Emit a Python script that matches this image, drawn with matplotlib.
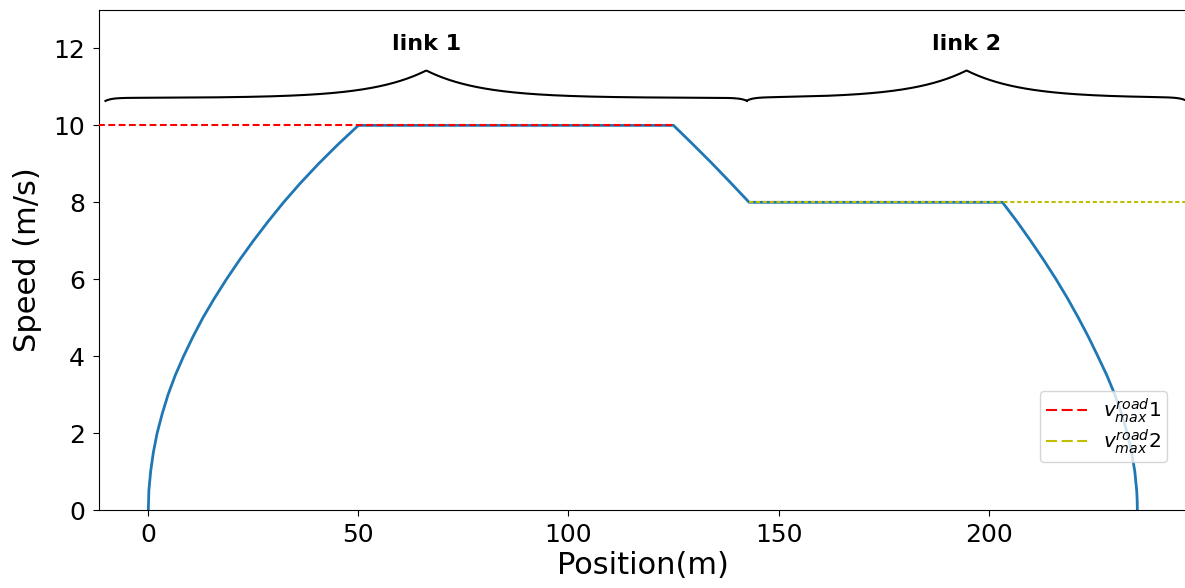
import numpy as np
import matplotlib
matplotlib.use("Agg")
import matplotlib.pyplot as plt
from matplotlib.lines import Line2D

# ---- data ----
accel_pos = [0, 0.13, 0.55, 1.2, 2.1, 3.3, 4.7, 6.4, 8.4, 10.6, 13.0, 15.7, 18.6,
             21.7, 25.0, 28.5, 32.2, 36.2, 40.5, 45.1, 50.0]
accel_speed = [0, 0.5, 1.0, 1.5, 2.0, 2.5, 3.0, 3.5, 4.0, 4.5, 5.0, 5.5, 6.0,
               6.5, 7.0, 7.5, 8.0, 8.5, 9.0, 9.5, 10.0]
cruise1_pos = [50.0, 125.0]
cruise1_speed = [10.0, 10.0]
decel1_pos = [125.0, 129.5, 134.0, 138.5, 143.0]
decel1_speed = [10.0, 9.52, 9.03, 8.52, 8.0]
cruise2_pos = [143.0, 203.3]
cruise2_speed = [8.0, 8.0]
decel2_pos = [203.3, 206.76, 210.0, 213.1, 216.05, 218.8, 221.35, 223.76, 225.99,
              228.15, 230.04, 231.66, 232.99, 234.04, 234.8, 235.25, 235.36, 235.4]
decel2_speed = [8.0, 7.5, 7.0, 6.5, 6.0, 5.5, 5.0, 4.5, 4.0,
                3.5, 3.0, 2.5, 2.0, 1.5, 1.0, 0.5, 0.25, 0.0]

vmax1_pos = [-12.0, 125.0]
vmax1_speed = [10.0, 10.0]
vmax2_pos = [143.0, 250.0]
vmax2_speed = [8.0, 8.0]

link_labels = ["link 1", "link 2"]
link_bounds = [(-10.2, 142.5), (142.5, 247.0)]
legend_labels = [r"$v_{max}^{road}1$", r"$v_{max}^{road}2$"]

xticks = [0, 50, 100, 150, 200]
yticks = [0, 2, 4, 6, 8, 10, 12]

# ---- figure ----
W, H = 1185, 588
fig = plt.figure(figsize=(W / 100, H / 100), dpi=100)
left_px, right_px, top_px, bottom_px = 99, 1186.5, 10, 510
ax = fig.add_axes([left_px / W, (H - bottom_px) / H,
                   (right_px - left_px) / W, (bottom_px - top_px) / H])

pos = accel_pos + cruise1_pos[1:] + decel1_pos[1:] + cruise2_pos[1:] + decel2_pos[1:]
spd = accel_speed + cruise1_speed[1:] + decel1_speed[1:] + cruise2_speed[1:] + decel2_speed[1:]
ax.plot(pos, spd, color="#1f77b4", lw=2.0, zorder=2)

ax.plot(vmax1_pos, vmax1_speed, color="r", lw=1.5, dashes=(3.3, 1.65), zorder=3)
ax.plot(vmax2_pos, vmax2_speed, color="y", lw=1.5, dashes=(2.0, 1.3), zorder=3)

ax.set_xlim(-11.74, 247.1)
ax.set_ylim(0, 13)
ax.set_xticks(xticks)
ax.set_yticks(yticks)
ax.tick_params(labelsize=18, length=4.5)
ax.tick_params(axis="x", pad=4.5)
ax.tick_params(axis="y", pad=5.5)
ax.set_xlabel("Position(m)", fontsize=22, labelpad=3)
ax.set_ylabel("Speed (m/s)", fontsize=22, labelpad=8)


def brace(x0, x1, base, hook, tip, le, lt):
    x = np.linspace(x0, x1, 600)
    mid = 0.5 * (x0 + x1)
    d_end = np.minimum(x - x0, x1 - x)
    d_tip = np.abs(x - mid)
    y = base - hook * np.exp(-d_end / le) + tip * np.exp(-d_tip / lt)
    return x, y


for (a, b), lab in zip(link_bounds, link_labels):
    bx, by = brace(a, b, 10.714, 0.08, 0.714, 1.5, 13.0)
    ax.plot(bx, by, color="black", lw=1.5, zorder=4)
    ax.text(0.5 * (a + b), 11.97, lab, ha="center", va="baseline",
            fontsize=16, fontweight="bold")

handles = [Line2D([], [], color="r", lw=1.5, dashes=(5.3, 2.2)),
           Line2D([], [], color="y", lw=1.5, dashes=(5.3, 2.2))]
axw = right_px - left_px
ax.legend(handles, legend_labels, loc="lower right", fontsize=14.5,
          handlelength=2.0, borderaxespad=0, labelspacing=0.1, borderpad=0.3,
          bbox_to_anchor=((1167 - left_px) / axw, (bottom_px - 462) / (bottom_px - top_px)))

fig.savefig("out.png", dpi=100)
